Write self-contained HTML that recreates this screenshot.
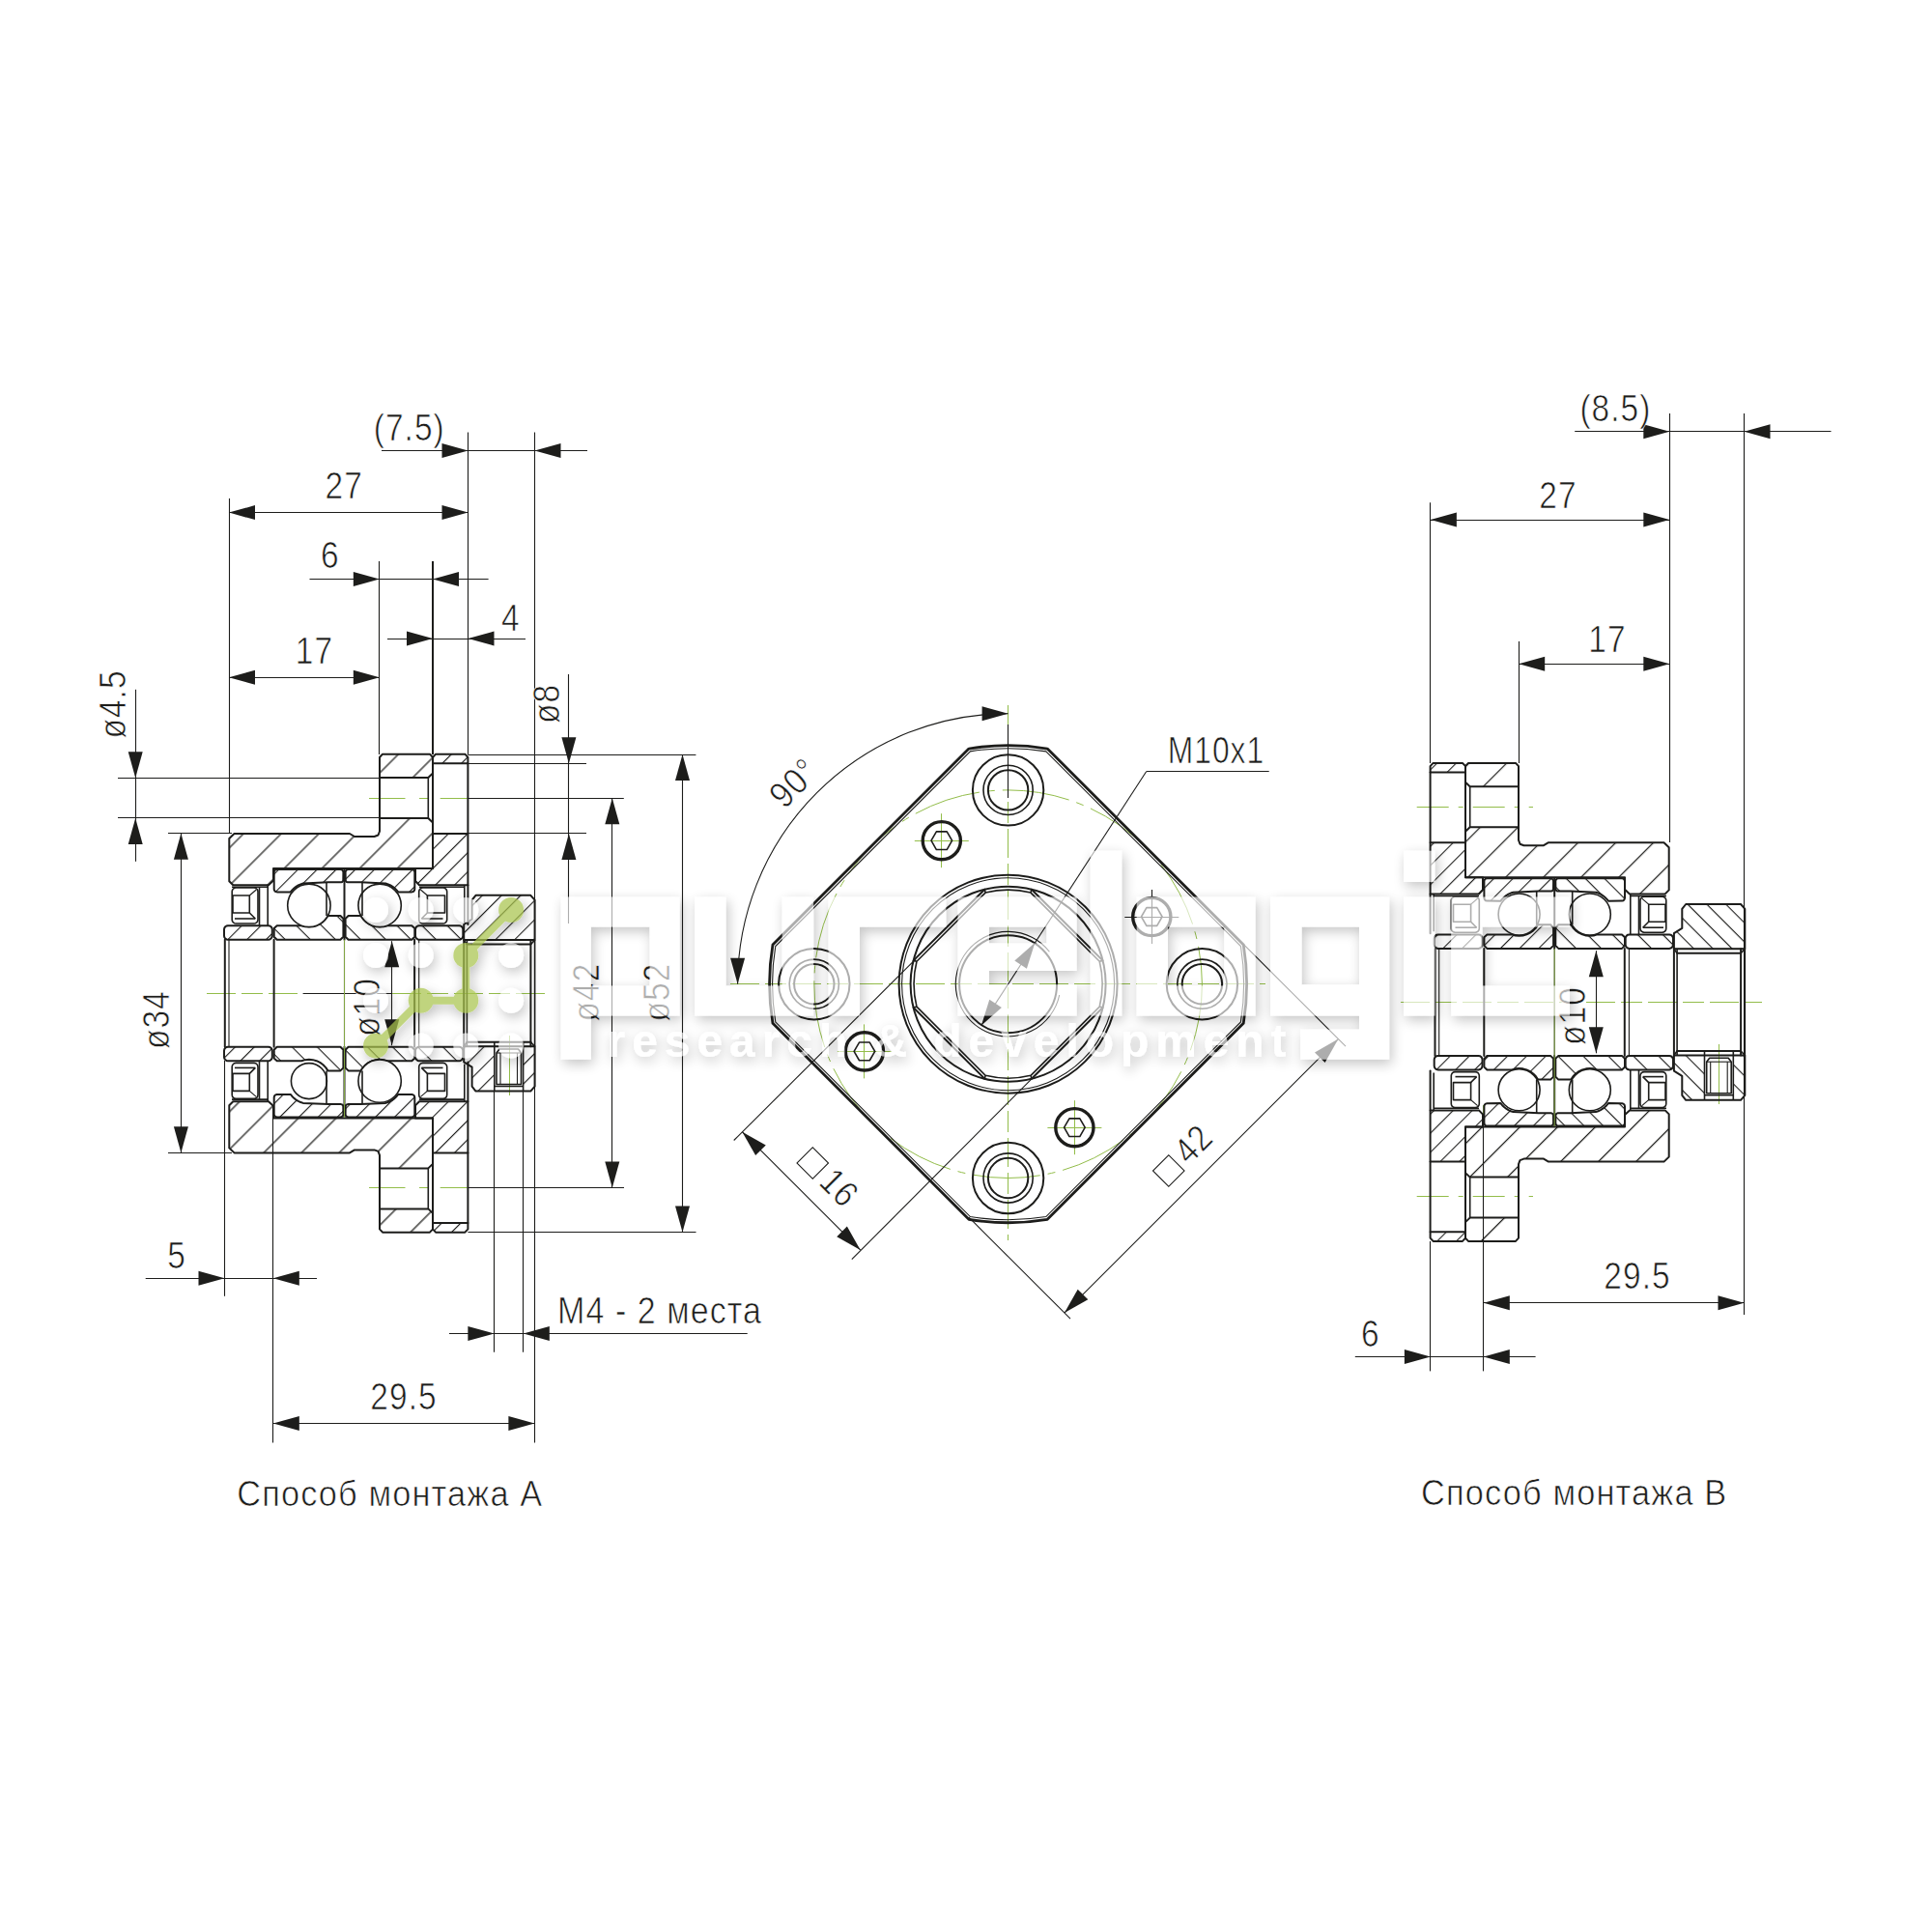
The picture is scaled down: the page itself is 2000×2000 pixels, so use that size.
<!DOCTYPE html>
<html><head><meta charset="utf-8"><title>Drawing</title>
<style>html,body{margin:0;padding:0;background:#fff}svg{display:block}text{font-family:"Liberation Sans",sans-serif}.d text{stroke:#fff;stroke-width:.7px;letter-spacing:1.2px}.k{stroke:#1d1d1b;stroke-width:2;stroke-linejoin:round;stroke-linecap:round}.k2{stroke:#1d1d1b;stroke-width:2}.k3{stroke:#1d1d1b;stroke-width:3.4}.m{stroke:#1d1d1b;stroke-width:1.6;stroke-linejoin:round}.t{stroke:#1d1d1b;stroke-width:1.1}.n{stroke:none}.g{stroke:#93bd4a;stroke-width:1}.kp{stroke:#1d1d1b;stroke-width:2.8;stroke-linejoin:round}</style></head><body>
<svg width="2000" height="2000" viewBox="0 0 2000 2000">
<defs>
<pattern id="hB" width="27.6" height="27.6" patternUnits="userSpaceOnUse" patternTransform="rotate(-45)"><line x1="0" y1="15.7" x2="27.6" y2="15.7" stroke="#1d1d1b" stroke-width="1.25"/></pattern>
<pattern id="hB2" width="27.6" height="27.6" patternUnits="userSpaceOnUse" patternTransform="rotate(-45)"><line x1="0" y1="5.5" x2="27.6" y2="5.5" stroke="#1d1d1b" stroke-width="1.25"/></pattern>
<pattern id="hS" width="14" height="14" patternUnits="userSpaceOnUse" patternTransform="rotate(-45)"><line x1="0" y1="0.5" x2="14" y2="0.5" stroke="#1d1d1b" stroke-width="1.25"/></pattern>
<pattern id="hS2" width="14" height="14" patternUnits="userSpaceOnUse" patternTransform="rotate(45)"><line x1="0" y1="0.5" x2="14" y2="0.5" stroke="#1d1d1b" stroke-width="1.25"/></pattern>
<pattern id="hI" width="18.4" height="18.4" patternUnits="userSpaceOnUse" patternTransform="rotate(45)"><line x1="0" y1="0.5" x2="18.4" y2="0.5" stroke="#1d1d1b" stroke-width="1.25"/></pattern>
<pattern id="hI2" width="18.4" height="18.4" patternUnits="userSpaceOnUse" patternTransform="rotate(-45)"><line x1="0" y1="0.5" x2="18.4" y2="0.5" stroke="#1d1d1b" stroke-width="1.25"/></pattern>
<filter id="ws" x="-5%" y="-20%" width="110%" height="140%"><feDropShadow dx="2.5" dy="4.5" stdDeviation="6.5" flood-color="#000" flood-opacity="0.36"/></filter>
</defs>
<rect width="2000" height="2000" fill="#fff"/>
<line class="g" x1="214" y1="1028.5" x2="570" y2="1028.5" stroke-dasharray="30 6 22 6"/>
<line class="g" x1="382" y1="826.5" x2="419.5" y2="826.5" />
<line class="g" x1="434" y1="826.5" x2="443" y2="826.5" />
<line class="g" x1="455.7" y1="826.5" x2="490" y2="826.5" />
<line class="g" x1="382" y1="1229.5" x2="419.5" y2="1229.5" />
<line class="g" x1="434" y1="1229.5" x2="443" y2="1229.5" />
<line class="g" x1="455.7" y1="1229.5" x2="490" y2="1229.5" />
<line class="g" x1="527.5" y1="1072" x2="527.5" y2="1134" />
<line class="g" x1="1450" y1="1037.5" x2="1824" y2="1037.5" stroke-dasharray="30 6 22 6"/>
<line class="g" x1="1466.7" y1="835.5" x2="1587" y2="835.5" stroke-dasharray="33 10 5 10"/>
<line class="g" x1="1466.7" y1="1238.5" x2="1587" y2="1238.5" stroke-dasharray="33 10 5 10"/>
<line class="g" x1="1535.5" y1="1144" x2="1535.5" y2="1300" />
<line class="g" x1="1779.5" y1="1081" x2="1779.5" y2="1143" />
<polygon class="k" fill="url(#hB)" points="242.5,863 362,863 367,866 387.5,866 391.5,864.5 393,860.5 393,847 443.3,847 448,851.5 448,899 283,899 283,911.5 278,916.2 241.3,916.2 237.3,912.2 237.3,868" />
<polygon class="k" fill="url(#hB)" points="242.5,1193.4 362,1193.4 367,1190.4 387.5,1190.4 391.5,1191.9 393,1195.9 393,1209.4 443.3,1209.4 448,1204.9 448,1157.4 283,1157.4 283,1144.9 278,1140.2 241.3,1140.2 237.3,1144.2 237.3,1188.4" />
<polygon class="k" fill="url(#hB)" points="393,784 396,780.7 445,780.7 448,784 448,800.5 443.3,805 393,805" />
<polygon class="k" fill="url(#hB)" points="393,1272.4 396,1275.7 445,1275.7 448,1272.4 448,1255.9 443.3,1251.4 393,1251.4" />
<polyline class="k" fill="none" points="393,805 393,847" />
<polyline class="k" fill="none" points="393,1251.4 393,1209.4" />
<polyline class="m" fill="none" points="443.3,805 443.3,847" />
<polyline class="m" fill="none" points="443.3,1251.4 443.3,1209.4" />
<polyline class="k" fill="none" points="448,800 448,852" />
<polyline class="k" fill="none" points="448,1256.4 448,1204.4" />
<polygon class="k" fill="url(#hS)" points="448,784 451,780.7 481.4,780.7 484.4,784 484.4,790.3 448,790.3" />
<polygon class="k" fill="url(#hS)" points="448,1272.4 451,1275.7 481.4,1275.7 484.4,1272.4 484.4,1266.1 448,1266.1" />
<polygon class="k" fill="url(#hS)" points="448,863 484.4,863 484.4,916.2 434,916.2 430,912 430,899 448,899" />
<polygon class="k" fill="url(#hS)" points="448,1193.4 484.4,1193.4 484.4,1140.2 434,1140.2 430,1144.4 430,1157.4 448,1157.4" />
<polyline class="k" fill="none" points="484.4,790.3 484.4,863" />
<polyline class="k" fill="none" points="484.4,1266.1 484.4,1193.4" />
<polyline class="m" fill="none" points="480.8,916.2 480.8,955" />
<polyline class="m" fill="none" points="480.8,1140.2 480.8,1101.4" />
<polyline class="k" fill="none" points="484.4,916.2 484.4,957" />
<polyline class="k" fill="none" points="484.4,1140.2 484.4,1099.4" />
<polyline class="m" fill="none" points="434,918.3 480.8,918.3" />
<polyline class="m" fill="none" points="434,1138.1 480.8,1138.1" />
<polygon class="m" fill="none" points="240.2,923 240.5,921.47 241.37,920.17 242.67,919.3 244.2,919 263,919 264.53,919.3 265.83,920.17 266.7,921.47 267,923 267,952 266.7,953.53 265.83,954.83 264.53,955.7 263,956 244.2,956 242.67,955.7 241.37,954.83 240.5,953.53 240.2,952" />
<polygon class="m" fill="none" points="240.2,1133.4 240.5,1134.93 241.37,1136.23 242.67,1137.1 244.2,1137.4 263,1137.4 264.53,1137.1 265.83,1136.23 266.7,1134.93 267,1133.4 267,1104.4 266.7,1102.87 265.83,1101.57 264.53,1100.7 263,1100.4 244.2,1100.4 242.67,1100.7 241.37,1101.57 240.5,1102.87 240.2,1104.4" />
<polygon class="m" fill="none" points="241,927 258.3,927 258.3,945 241,945" />
<polygon class="m" fill="none" points="241,1129.4 258.3,1129.4 258.3,1111.4 241,1111.4" />
<polyline class="m" fill="none" points="258.3,945 264.3,951" />
<polyline class="m" fill="none" points="258.3,1111.4 264.3,1105.4" />
<polyline class="m" fill="none" points="243,951 264.3,951" />
<polyline class="m" fill="none" points="243,1105.4 264.3,1105.4" />
<polyline class="t" fill="none" points="258.3,927 265.3,921" />
<polyline class="t" fill="none" points="258.3,1129.4 265.3,1135.4" />
<polygon class="m" fill="none" points="433.7,923 434,921.47 434.87,920.17 436.17,919.3 437.7,919 458.7,919 460.23,919.3 461.53,920.17 462.4,921.47 462.7,923 462.7,952 462.4,953.53 461.53,954.83 460.23,955.7 458.7,956 437.7,956 436.17,955.7 434.87,954.83 434,953.53 433.7,952" />
<polygon class="m" fill="none" points="433.7,1133.4 434,1134.93 434.87,1136.23 436.17,1137.1 437.7,1137.4 458.7,1137.4 460.23,1137.1 461.53,1136.23 462.4,1134.93 462.7,1133.4 462.7,1104.4 462.4,1102.87 461.53,1101.57 460.23,1100.7 458.7,1100.4 437.7,1100.4 436.17,1100.7 434.87,1101.57 434,1102.87 433.7,1104.4" />
<polygon class="m" fill="none" points="460.5,927 442.4,927 442.4,945 460.5,945" />
<polygon class="m" fill="none" points="460.5,1129.4 442.4,1129.4 442.4,1111.4 460.5,1111.4" />
<polyline class="m" fill="none" points="442.4,945 436.4,951" />
<polyline class="m" fill="none" points="442.4,1111.4 436.4,1105.4" />
<polyline class="m" fill="none" points="458.5,951 436.4,951" />
<polyline class="m" fill="none" points="458.5,1105.4 436.4,1105.4" />
<polyline class="t" fill="none" points="442.4,927 435.4,921" />
<polyline class="t" fill="none" points="442.4,1129.4 435.4,1135.4" />
<polyline class="m" fill="none" points="268.5,918.3 268.5,958" />
<polyline class="m" fill="none" points="268.5,1138.1 268.5,1098.4" />
<polyline class="m" fill="none" points="277.2,916.2 277.2,958" />
<polyline class="m" fill="none" points="277.2,1140.2 277.2,1098.4" />
<polyline class="m" fill="none" points="240,918.3 277.2,918.3" />
<polyline class="m" fill="none" points="240,1138.1 277.2,1138.1" />
<polygon class="k" fill="url(#hS)" points="283.7,903 284.1,901.5 285.2,900.4 286.7,900 352.4,900 353.9,900.4 355,901.5 355.4,903 355.3,911 354.99,912.15 354.15,912.99 353,913.3 340,913.3 313.79,914.5 311.24,915.35 308.8,916.48 306.5,917.87 304.38,919.52 302.45,921.41 300.76,923.49 286.7,923.4 285.2,923 284.1,921.9 283.7,920.4" />
<polygon class="k" fill="url(#hS)" points="283.7,1153.4 284.1,1154.9 285.2,1156 286.7,1156.4 352.4,1156.4 353.9,1156 355,1154.9 355.4,1153.4 355.3,1145.4 354.99,1144.25 354.15,1143.41 353,1143.1 340,1143.1 313.79,1141.9 311.24,1141.05 308.8,1139.92 306.5,1138.53 304.38,1136.88 302.45,1134.99 300.76,1132.91 286.7,1133 285.2,1133.4 284.1,1134.5 283.7,1136" />
<polygon class="k" fill="url(#hS)" points="429.3,903 428.9,901.5 427.8,900.4 426.3,900 360.6,900 359.1,900.4 358,901.5 357.6,903 357.7,911 358.01,912.15 358.85,912.99 360,913.3 373,913.3 399.21,914.5 401.76,915.35 404.2,916.48 406.5,917.87 408.62,919.52 410.55,921.41 412.24,923.49 426.3,923.4 427.8,923 428.9,921.9 429.3,920.4" />
<polygon class="k" fill="url(#hS)" points="429.3,1153.4 428.9,1154.9 427.8,1156 426.3,1156.4 360.6,1156.4 359.1,1156 358,1154.9 357.6,1153.4 357.7,1145.4 358.01,1144.25 358.85,1143.41 360,1143.1 373,1143.1 399.21,1141.9 401.76,1141.05 404.2,1139.92 406.5,1138.53 408.62,1136.88 410.55,1134.99 412.24,1132.91 426.3,1133 427.8,1133.4 428.9,1134.5 429.3,1136" />
<polygon class="k" fill="url(#hI)" points="283.7,961 286.7,958.2 312.13,958.2 315.96,959.25 319.91,959.6 323.86,959.24 327.69,958.19 331.27,956.48 334.49,954.16 337.25,951.31 339.46,948.01 352.4,948 355.4,951 355.4,969.7 352.4,972.7 286.7,972.7 283.7,969.7" />
<polygon class="k" fill="url(#hI)" points="283.7,1095.4 286.7,1098.2 312.13,1098.2 315.96,1097.15 319.91,1096.8 323.86,1097.16 327.69,1098.21 331.27,1099.92 334.49,1102.24 337.25,1105.09 339.46,1108.39 352.4,1108.4 355.4,1105.4 355.4,1086.7 352.4,1083.7 286.7,1083.7 283.7,1086.7" />
<polygon class="k" fill="url(#hI)" points="429.3,961 426.3,958.2 400.87,958.2 397.04,959.25 393.09,959.6 389.14,959.24 385.31,958.19 381.73,956.48 378.51,954.16 375.75,951.31 373.54,948.01 360.6,948 357.6,951 357.6,969.7 360.6,972.7 426.3,972.7 429.3,969.7" />
<polygon class="k" fill="url(#hI)" points="429.3,1095.4 426.3,1098.2 400.87,1098.2 397.04,1097.15 393.09,1096.8 389.14,1097.16 385.31,1098.21 381.73,1099.92 378.51,1102.24 375.75,1105.09 373.54,1108.39 360.6,1108.4 357.6,1105.4 357.6,1086.7 360.6,1083.7 426.3,1083.7 429.3,1086.7" />
<circle class="m" fill="#fff" cx="319.9" cy="937.3" r="22.2" />
<circle class="m" fill="#fff" cx="319.9" cy="1119.1" r="18.5" />
<circle class="m" fill="#fff" cx="393.1" cy="937.3" r="22.2" />
<circle class="m" fill="#fff" cx="393.1" cy="1119.1" r="22.2" />
<polyline class="m" fill="none" points="338,913.3 338,948" />
<polyline class="m" fill="none" points="338,1143.1 338,1108.4" />
<polyline class="m" fill="none" points="375,913.3 375,948" />
<polyline class="m" fill="none" points="375,1143.1 375,1108.4" />
<polyline class="k" fill="none" points="356.5,900 356.5,972.7" />
<polyline class="k" fill="none" points="356.5,1156.4 356.5,1083.7" />
<polygon class="k" fill="url(#hS)" points="232,962.2 232.3,960.67 233.17,959.37 234.47,958.5 236,958.2 277.8,958.2 279.33,958.5 280.63,959.37 281.5,960.67 281.8,962.2 281.8,968.7 281.5,970.23 280.63,971.53 279.33,972.4 277.8,972.7 236,972.7 234.47,972.4 233.17,971.53 232.3,970.23 232,968.7" />
<polygon class="k" fill="url(#hS)" points="232,1094.2 232.3,1095.73 233.17,1097.03 234.47,1097.9 236,1098.2 277.8,1098.2 279.33,1097.9 280.63,1097.03 281.5,1095.73 281.8,1094.2 281.8,1087.7 281.5,1086.17 280.63,1084.87 279.33,1084 277.8,1083.7 236,1083.7 234.47,1084 233.17,1084.87 232.3,1086.17 232,1087.7" />
<polygon class="k" fill="url(#hI)" points="430,962.2 430.3,960.67 431.17,959.37 432.47,958.5 434,958.2 475.3,958.2 476.83,958.5 478.13,959.37 479,960.67 479.3,962.2 479.3,968.7 479,970.23 478.13,971.53 476.83,972.4 475.3,972.7 434,972.7 432.47,972.4 431.17,971.53 430.3,970.23 430,968.7" />
<polygon class="k" fill="url(#hI)" points="430,1094.2 430.3,1095.73 431.17,1097.03 432.47,1097.9 434,1098.2 475.3,1098.2 476.83,1097.9 478.13,1097.03 479,1095.73 479.3,1094.2 479.3,1087.7 479,1086.17 478.13,1084.87 476.83,1084 475.3,1083.7 434,1083.7 432.47,1084 431.17,1084.87 430.3,1086.17 430,1087.7" />
<polyline class="k" fill="none" points="232.8,972.7 232.8,1083.7" />
<polyline class="t" fill="none" points="237,972.7 237,1083.7" />
<polyline class="k" fill="none" points="283.6,972.7 283.6,1083.7" />
<polyline class="t" fill="none" points="356.5,972.7 356.5,1083.7" />
<polyline class="k" fill="none" points="429.1,972.7 429.1,1083.7" />
<polyline class="t" fill="none" points="433.7,972.7 433.7,1083.7" />
<polygon class="k" fill="url(#hS)" points="488.6,931.7 492.5,926.8 549.3,926.8 553.6,931.7 553.6,973.1 480.2,973.1 480.2,957 488.6,951.7" />
<polygon class="n" fill="url(#hS)" points="488.6,1124.7 492.5,1129.6 511.8,1129.6 511.8,1083.3 480.2,1083.3 480.2,1099.4 488.6,1104.7" />
<polygon class="n" fill="url(#hS)" points="541.6,1129.6 549.3,1129.6 553.6,1124.7 553.6,1083.3 541.6,1083.3" />
<polygon class="k" fill="none" points="488.6,1124.7 492.5,1129.6 549.3,1129.6 553.6,1124.7 553.6,1083.3 480.2,1083.3 480.2,1099.4 488.6,1104.7" />
<polyline class="k" fill="none" points="483.4,977.6 549.4,977.6" />
<polyline class="k" fill="none" points="483.4,1078.8 549.4,1078.8" />
<polyline class="m" fill="none" points="480.2,973.1 483.4,977.6" />
<polyline class="m" fill="none" points="480.2,1083.3 483.4,1078.8" />
<polyline class="m" fill="none" points="553.6,973.1 549.4,977.6" />
<polyline class="m" fill="none" points="553.6,1083.3 549.4,1078.8" />
<polyline class="t" fill="none" points="480.2,973.1 553.6,973.1" />
<polyline class="t" fill="none" points="480.2,1083.3 553.6,1083.3" />
<polyline class="k" fill="none" points="480.2,973.1 480.2,1083.3" />
<polyline class="m" fill="none" points="483.4,973.1 483.4,1083.3" />
<polyline class="k" fill="none" points="549.4,973.1 549.4,1083.3" />
<polyline class="m" fill="none" points="553.6,973.1 553.6,1083.3" />
<polyline class="m" fill="none" points="511.8,1079 511.8,1129.4" />
<polyline class="m" fill="none" points="541.6,1079 541.6,1129.4" />
<polygon class="m" fill="none" points="514,1090 517,1086 536.5,1086 539.5,1090 539.5,1122.5 514,1122.5" />
<polyline class="t" fill="none" points="518,1090 518,1122.5" />
<polyline class="t" fill="none" points="535.5,1090 535.5,1122.5" />
<polyline class="t" fill="none" points="514,1090 539.5,1090" />
<polyline class="m" fill="none" points="511.8,1124.5 541.6,1124.5" />
<polygon class="k" fill="url(#hB2)" points="1722.5,872.2 1603,872.2 1598,875.2 1577.5,875.2 1573.5,873.7 1572,869.7 1572,856.2 1521.7,856.2 1517,860.7 1517,908.2 1682,908.2 1682,920.7 1687,925.4 1723.7,925.4 1727.7,921.4 1727.7,877.2" />
<polygon class="k" fill="url(#hB2)" points="1722.5,1202.6 1603,1202.6 1598,1199.6 1577.5,1199.6 1573.5,1201.1 1572,1205.1 1572,1218.6 1521.7,1218.6 1517,1214.1 1517,1166.6 1682,1166.6 1682,1154.1 1687,1149.4 1723.7,1149.4 1727.7,1153.4 1727.7,1197.6" />
<polygon class="k" fill="url(#hB2)" points="1572,793.2 1569,789.9 1520,789.9 1517,793.2 1517,809.7 1521.7,814.2 1572,814.2" />
<polygon class="k" fill="url(#hB2)" points="1572,1281.6 1569,1284.9 1520,1284.9 1517,1281.6 1517,1265.1 1521.7,1260.6 1572,1260.6" />
<polyline class="k" fill="none" points="1572,814.2 1572,856.2" />
<polyline class="k" fill="none" points="1572,1260.6 1572,1218.6" />
<polyline class="m" fill="none" points="1521.7,814.2 1521.7,856.2" />
<polyline class="m" fill="none" points="1521.7,1260.6 1521.7,1218.6" />
<polyline class="k" fill="none" points="1517,809.2 1517,861.2" />
<polyline class="k" fill="none" points="1517,1265.6 1517,1213.6" />
<polygon class="k" fill="url(#hS)" points="1517,793.2 1514,789.9 1483.6,789.9 1480.6,793.2 1480.6,799.5 1517,799.5" />
<polygon class="k" fill="url(#hS)" points="1517,1281.6 1514,1284.9 1483.6,1284.9 1480.6,1281.6 1480.6,1275.3 1517,1275.3" />
<polygon class="k" fill="url(#hS)" points="1517,872.2 1480.6,872.2 1480.6,925.4 1531,925.4 1535,921.2 1535,908.2 1517,908.2" />
<polygon class="k" fill="url(#hS)" points="1517,1202.6 1480.6,1202.6 1480.6,1149.4 1531,1149.4 1535,1153.6 1535,1166.6 1517,1166.6" />
<polyline class="k" fill="none" points="1480.6,799.5 1480.6,872.2" />
<polyline class="k" fill="none" points="1480.6,1275.3 1480.6,1202.6" />
<polyline class="m" fill="none" points="1484.2,925.4 1484.2,964.2" />
<polyline class="m" fill="none" points="1484.2,1149.4 1484.2,1110.6" />
<polyline class="k" fill="none" points="1480.6,925.4 1480.6,966.2" />
<polyline class="k" fill="none" points="1480.6,1149.4 1480.6,1108.6" />
<polyline class="m" fill="none" points="1531,927.5 1484.2,927.5" />
<polyline class="m" fill="none" points="1531,1147.3 1484.2,1147.3" />
<polygon class="m" fill="none" points="1724.8,932.2 1724.5,930.67 1723.63,929.37 1722.33,928.5 1720.8,928.2 1702,928.2 1700.47,928.5 1699.17,929.37 1698.3,930.67 1698,932.2 1698,961.2 1698.3,962.73 1699.17,964.03 1700.47,964.9 1702,965.2 1720.8,965.2 1722.33,964.9 1723.63,964.03 1724.5,962.73 1724.8,961.2" />
<polygon class="m" fill="none" points="1724.8,1142.6 1724.5,1144.13 1723.63,1145.43 1722.33,1146.3 1720.8,1146.6 1702,1146.6 1700.47,1146.3 1699.17,1145.43 1698.3,1144.13 1698,1142.6 1698,1113.6 1698.3,1112.07 1699.17,1110.77 1700.47,1109.9 1702,1109.6 1720.8,1109.6 1722.33,1109.9 1723.63,1110.77 1724.5,1112.07 1724.8,1113.6" />
<polygon class="m" fill="none" points="1724,936.2 1706.7,936.2 1706.7,954.2 1724,954.2" />
<polygon class="m" fill="none" points="1724,1138.6 1706.7,1138.6 1706.7,1120.6 1724,1120.6" />
<polyline class="m" fill="none" points="1706.7,954.2 1700.7,960.2" />
<polyline class="m" fill="none" points="1706.7,1120.6 1700.7,1114.6" />
<polyline class="m" fill="none" points="1722,960.2 1700.7,960.2" />
<polyline class="m" fill="none" points="1722,1114.6 1700.7,1114.6" />
<polyline class="t" fill="none" points="1706.7,936.2 1699.7,930.2" />
<polyline class="t" fill="none" points="1706.7,1138.6 1699.7,1144.6" />
<polygon class="m" fill="none" points="1531.3,932.2 1531,930.67 1530.13,929.37 1528.83,928.5 1527.3,928.2 1506.3,928.2 1504.77,928.5 1503.47,929.37 1502.6,930.67 1502.3,932.2 1502.3,961.2 1502.6,962.73 1503.47,964.03 1504.77,964.9 1506.3,965.2 1527.3,965.2 1528.83,964.9 1530.13,964.03 1531,962.73 1531.3,961.2" />
<polygon class="m" fill="none" points="1531.3,1142.6 1531,1144.13 1530.13,1145.43 1528.83,1146.3 1527.3,1146.6 1506.3,1146.6 1504.77,1146.3 1503.47,1145.43 1502.6,1144.13 1502.3,1142.6 1502.3,1113.6 1502.6,1112.07 1503.47,1110.77 1504.77,1109.9 1506.3,1109.6 1527.3,1109.6 1528.83,1109.9 1530.13,1110.77 1531,1112.07 1531.3,1113.6" />
<polygon class="m" fill="none" points="1504.5,936.2 1522.6,936.2 1522.6,954.2 1504.5,954.2" />
<polygon class="m" fill="none" points="1504.5,1138.6 1522.6,1138.6 1522.6,1120.6 1504.5,1120.6" />
<polyline class="m" fill="none" points="1522.6,954.2 1528.6,960.2" />
<polyline class="m" fill="none" points="1522.6,1120.6 1528.6,1114.6" />
<polyline class="m" fill="none" points="1506.5,960.2 1528.6,960.2" />
<polyline class="m" fill="none" points="1506.5,1114.6 1528.6,1114.6" />
<polyline class="t" fill="none" points="1522.6,936.2 1529.6,930.2" />
<polyline class="t" fill="none" points="1522.6,1138.6 1529.6,1144.6" />
<polyline class="m" fill="none" points="1696.5,927.5 1696.5,967.2" />
<polyline class="m" fill="none" points="1696.5,1147.3 1696.5,1107.6" />
<polyline class="m" fill="none" points="1687.8,925.4 1687.8,967.2" />
<polyline class="m" fill="none" points="1687.8,1149.4 1687.8,1107.6" />
<polyline class="m" fill="none" points="1725,927.5 1687.8,927.5" />
<polyline class="m" fill="none" points="1725,1147.3 1687.8,1147.3" />
<polygon class="k" fill="url(#hS)" points="1536.4,912.2 1536.8,910.7 1537.9,909.6 1539.4,909.2 1605.1,909.2 1606.6,909.6 1607.7,910.7 1608.1,912.2 1608,920.2 1607.69,921.35 1606.85,922.19 1605.7,922.5 1592.7,922.5 1566.49,923.7 1563.94,924.55 1561.5,925.68 1559.2,927.07 1557.08,928.72 1555.15,930.61 1553.46,932.69 1539.4,932.6 1537.9,932.2 1536.8,931.1 1536.4,929.6" />
<polygon class="k" fill="url(#hS)" points="1536.4,1162.6 1536.8,1164.1 1537.9,1165.2 1539.4,1165.6 1605.1,1165.6 1606.6,1165.2 1607.7,1164.1 1608.1,1162.6 1608,1154.6 1607.69,1153.45 1606.85,1152.61 1605.7,1152.3 1592.7,1152.3 1566.49,1151.1 1563.94,1150.25 1561.5,1149.12 1559.2,1147.73 1557.08,1146.08 1555.15,1144.19 1553.46,1142.11 1539.4,1142.2 1537.9,1142.6 1536.8,1143.7 1536.4,1145.2" />
<polygon class="k" fill="url(#hS2)" points="1682,912.2 1681.6,910.7 1680.5,909.6 1679,909.2 1613.3,909.2 1611.8,909.6 1610.7,910.7 1610.3,912.2 1610.4,920.2 1610.71,921.35 1611.55,922.19 1612.7,922.5 1625.7,922.5 1651.91,923.7 1654.46,924.55 1656.9,925.68 1659.2,927.07 1661.32,928.72 1663.25,930.61 1664.94,932.69 1679,932.6 1680.5,932.2 1681.6,931.1 1682,929.6" />
<polygon class="k" fill="url(#hS2)" points="1682,1162.6 1681.6,1164.1 1680.5,1165.2 1679,1165.6 1613.3,1165.6 1611.8,1165.2 1610.7,1164.1 1610.3,1162.6 1610.4,1154.6 1610.71,1153.45 1611.55,1152.61 1612.7,1152.3 1625.7,1152.3 1651.91,1151.1 1654.46,1150.25 1656.9,1149.12 1659.2,1147.73 1661.32,1146.08 1663.25,1144.19 1664.94,1142.11 1679,1142.2 1680.5,1142.6 1681.6,1143.7 1682,1145.2" />
<polygon class="k" fill="url(#hS)" points="1536.4,970.2 1539.4,967.4 1564.83,967.4 1568.66,968.45 1572.61,968.8 1576.56,968.44 1580.39,967.39 1583.97,965.68 1587.19,963.36 1589.95,960.51 1592.16,957.21 1605.1,957.2 1608.1,960.2 1608.1,978.9 1605.1,981.9 1539.4,981.9 1536.4,978.9" />
<polygon class="k" fill="url(#hS)" points="1536.4,1104.6 1539.4,1107.4 1564.83,1107.4 1568.66,1106.35 1572.61,1106 1576.56,1106.36 1580.39,1107.41 1583.97,1109.12 1587.19,1111.44 1589.95,1114.29 1592.16,1117.59 1605.1,1117.6 1608.1,1114.6 1608.1,1095.9 1605.1,1092.9 1539.4,1092.9 1536.4,1095.9" />
<polygon class="k" fill="url(#hI)" points="1682,970.2 1679,967.4 1653.57,967.4 1649.74,968.45 1645.79,968.8 1641.84,968.44 1638.01,967.39 1634.43,965.68 1631.21,963.36 1628.45,960.51 1626.24,957.21 1613.3,957.2 1610.3,960.2 1610.3,978.9 1613.3,981.9 1679,981.9 1682,978.9" />
<polygon class="k" fill="url(#hI)" points="1682,1104.6 1679,1107.4 1653.57,1107.4 1649.74,1106.35 1645.79,1106 1641.84,1106.36 1638.01,1107.41 1634.43,1109.12 1631.21,1111.44 1628.45,1114.29 1626.24,1117.59 1613.3,1117.6 1610.3,1114.6 1610.3,1095.9 1613.3,1092.9 1679,1092.9 1682,1095.9" />
<circle class="m" fill="#fff" cx="1572.6" cy="946.5" r="21.5" />
<circle class="m" fill="#fff" cx="1572.6" cy="1128.3" r="21.5" />
<circle class="m" fill="#fff" cx="1645.8" cy="946.5" r="21.5" />
<circle class="m" fill="#fff" cx="1645.8" cy="1128.3" r="21.5" />
<polyline class="m" fill="none" points="1590.7,922.5 1590.7,957.2" />
<polyline class="m" fill="none" points="1590.7,1152.3 1590.7,1117.6" />
<polyline class="m" fill="none" points="1627.7,922.5 1627.7,957.2" />
<polyline class="m" fill="none" points="1627.7,1152.3 1627.7,1117.6" />
<polyline class="k" fill="none" points="1609.2,909.2 1609.2,981.9" />
<polyline class="k" fill="none" points="1609.2,1165.6 1609.2,1092.9" />
<polygon class="k" fill="url(#hS)" points="1484.7,971.4 1485,969.87 1485.87,968.57 1487.17,967.7 1488.7,967.4 1530.5,967.4 1532.03,967.7 1533.33,968.57 1534.2,969.87 1534.5,971.4 1534.5,977.9 1534.2,979.43 1533.33,980.73 1532.03,981.6 1530.5,981.9 1488.7,981.9 1487.17,981.6 1485.87,980.73 1485,979.43 1484.7,977.9" />
<polygon class="k" fill="url(#hS)" points="1484.7,1103.4 1485,1104.93 1485.87,1106.23 1487.17,1107.1 1488.7,1107.4 1530.5,1107.4 1532.03,1107.1 1533.33,1106.23 1534.2,1104.93 1534.5,1103.4 1534.5,1096.9 1534.2,1095.37 1533.33,1094.07 1532.03,1093.2 1530.5,1092.9 1488.7,1092.9 1487.17,1093.2 1485.87,1094.07 1485,1095.37 1484.7,1096.9" />
<polygon class="k" fill="url(#hI)" points="1682.7,971.4 1683,969.87 1683.87,968.57 1685.17,967.7 1686.7,967.4 1728,967.4 1729.53,967.7 1730.83,968.57 1731.7,969.87 1732,971.4 1732,977.9 1731.7,979.43 1730.83,980.73 1729.53,981.6 1728,981.9 1686.7,981.9 1685.17,981.6 1683.87,980.73 1683,979.43 1682.7,977.9" />
<polygon class="k" fill="url(#hI)" points="1682.7,1103.4 1683,1104.93 1683.87,1106.23 1685.17,1107.1 1686.7,1107.4 1728,1107.4 1729.53,1107.1 1730.83,1106.23 1731.7,1104.93 1732,1103.4 1732,1096.9 1731.7,1095.37 1730.83,1094.07 1729.53,1093.2 1728,1092.9 1686.7,1092.9 1685.17,1093.2 1683.87,1094.07 1683,1095.37 1682.7,1096.9" />
<polyline class="k" fill="none" points="1485.5,981.9 1485.5,1092.9" />
<polyline class="t" fill="none" points="1489.7,981.9 1489.7,1092.9" />
<polyline class="k" fill="none" points="1536.3,981.9 1536.3,1092.9" />
<polyline class="t" fill="none" points="1609.2,981.9 1609.2,1092.9" />
<polyline class="k" fill="none" points="1681.8,981.9 1681.8,1092.9" />
<polyline class="t" fill="none" points="1686.4,981.9 1686.4,1092.9" />
<polygon class="k" fill="url(#hS2)" points="1741.3,940.9 1745.2,936 1802,936 1806.3,940.9 1806.3,982.3 1732.9,982.3 1732.9,966.2 1741.3,960.9" />
<polygon class="n" fill="url(#hS2)" points="1741.3,1133.9 1745.2,1138.8 1764.5,1138.8 1764.5,1092.5 1732.9,1092.5 1732.9,1108.6 1741.3,1113.9" />
<polygon class="n" fill="url(#hS2)" points="1794.3,1138.8 1802,1138.8 1806.3,1133.9 1806.3,1092.5 1794.3,1092.5" />
<polygon class="k" fill="none" points="1741.3,1133.9 1745.2,1138.8 1802,1138.8 1806.3,1133.9 1806.3,1092.5 1732.9,1092.5 1732.9,1108.6 1741.3,1113.9" />
<polyline class="k" fill="none" points="1736.1,986.8 1802.1,986.8" />
<polyline class="k" fill="none" points="1736.1,1088 1802.1,1088" />
<polyline class="m" fill="none" points="1732.9,982.3 1736.1,986.8" />
<polyline class="m" fill="none" points="1732.9,1092.5 1736.1,1088" />
<polyline class="m" fill="none" points="1806.3,982.3 1802.1,986.8" />
<polyline class="m" fill="none" points="1806.3,1092.5 1802.1,1088" />
<polyline class="t" fill="none" points="1732.9,982.3 1806.3,982.3" />
<polyline class="t" fill="none" points="1732.9,1092.5 1806.3,1092.5" />
<polyline class="k" fill="none" points="1732.9,982.3 1732.9,1092.5" />
<polyline class="m" fill="none" points="1736.1,982.3 1736.1,1092.5" />
<polyline class="k" fill="none" points="1802.1,982.3 1802.1,1092.5" />
<polyline class="m" fill="none" points="1806.3,982.3 1806.3,1092.5" />
<polyline class="m" fill="none" points="1764.5,1088.2 1764.5,1138.6" />
<polyline class="m" fill="none" points="1794.3,1088.2 1794.3,1138.6" />
<polygon class="m" fill="none" points="1766.7,1099.2 1769.7,1095.2 1789.2,1095.2 1792.2,1099.2 1792.2,1131.7 1766.7,1131.7" />
<polyline class="t" fill="none" points="1770.7,1099.2 1770.7,1131.7" />
<polyline class="t" fill="none" points="1788.2,1099.2 1788.2,1131.7" />
<polyline class="t" fill="none" points="1766.7,1099.2 1792.2,1099.2" />
<polyline class="m" fill="none" points="1764.5,1133.7 1794.3,1133.7" />
<line class="t" x1="237.5" y1="516" x2="237.5" y2="863" />
<line class="t" x1="484.5" y1="447.6" x2="484.5" y2="781" />
<line class="t" x1="553.5" y1="447.6" x2="553.5" y2="1493.6" />
<line class="t" x1="392.5" y1="581" x2="392.5" y2="781" />
<line class="k2" x1="448" y1="581" x2="448" y2="781" />
<line class="t" x1="232.5" y1="1098" x2="232.5" y2="1341.8" />
<line class="t" x1="282.5" y1="1157" x2="282.5" y2="1493.6" />
<line class="t" x1="511.5" y1="1129" x2="511.5" y2="1399.8" />
<line class="t" x1="541.5" y1="1129" x2="541.5" y2="1399.8" />
<line class="t" x1="395" y1="466.5" x2="608" y2="466.5" />
<polygon fill="#1d1d1b" points="484.5,466.5 457.5,474 457.5,459"/>
<polygon fill="#1d1d1b" points="553.5,466.5 580.5,459 580.5,474"/>
<g class="d" transform="translate(386.7,456) rotate(0) scale(0.88,1)"><text font-size="38" text-anchor="start" fill="#1d1d1b" font-weight="normal" >(7.5)</text></g>
<line class="t" x1="237" y1="530.5" x2="484.5" y2="530.5" />
<polygon fill="#1d1d1b" points="237,530.6 264,523.1 264,538.1"/>
<polygon fill="#1d1d1b" points="484.5,530.6 457.5,538.1 457.5,523.1"/>
<g class="d" transform="translate(356.2,516) rotate(0) scale(0.88,1)"><text font-size="38" text-anchor="middle" fill="#1d1d1b" font-weight="normal" >27</text></g>
<line class="t" x1="320.5" y1="599.5" x2="505.6" y2="599.5" />
<polygon fill="#1d1d1b" points="392.8,599.6 365.8,607.1 365.8,592.1"/>
<polygon fill="#1d1d1b" points="448,599.6 475,592.1 475,607.1"/>
<g class="d" transform="translate(341.7,588.4) rotate(0) scale(0.88,1)"><text font-size="38" text-anchor="middle" fill="#1d1d1b" font-weight="normal" >6</text></g>
<line class="t" x1="401" y1="661.5" x2="544" y2="661.5" />
<polygon fill="#1d1d1b" points="448,661 421,668.5 421,653.5"/>
<polygon fill="#1d1d1b" points="484.5,661 511.5,653.5 511.5,668.5"/>
<g class="d" transform="translate(528.8,652.6) rotate(0) scale(0.88,1)"><text font-size="38" text-anchor="middle" fill="#1d1d1b" font-weight="normal" >4</text></g>
<line class="t" x1="237" y1="701.5" x2="392.8" y2="701.5" />
<polygon fill="#1d1d1b" points="237,701.3 264,693.8 264,708.8"/>
<polygon fill="#1d1d1b" points="392.8,701.3 365.8,708.8 365.8,693.8"/>
<g class="d" transform="translate(325.5,686.7) rotate(0) scale(0.88,1)"><text font-size="38" text-anchor="middle" fill="#1d1d1b" font-weight="normal" >17</text></g>
<line class="t" x1="122" y1="805.5" x2="393" y2="805.5" />
<line class="t" x1="122" y1="846.5" x2="393" y2="846.5" />
<line class="t" x1="140.5" y1="713.8" x2="140.5" y2="891.8" />
<polygon fill="#1d1d1b" points="140.2,805.3 132.7,778.3 147.7,778.3"/>
<polygon fill="#1d1d1b" points="140.2,846.9 147.7,873.9 132.7,873.9"/>
<g class="d" transform="translate(130,729) rotate(-90) scale(0.88,1)"><text font-size="38" text-anchor="middle" fill="#1d1d1b" font-weight="normal" >ø4.5</text></g>
<line class="t" x1="174" y1="862.5" x2="240" y2="862.5" />
<line class="t" x1="174" y1="1193.5" x2="240" y2="1193.5" />
<line class="t" x1="187.5" y1="862.8" x2="187.5" y2="1193.2" />
<polygon fill="#1d1d1b" points="187.4,862.8 194.9,889.8 179.9,889.8"/>
<polygon fill="#1d1d1b" points="187.4,1193.2 179.9,1166.2 194.9,1166.2"/>
<g class="d" transform="translate(174.9,1055.5) rotate(-90) scale(0.88,1)"><text font-size="38" text-anchor="middle" fill="#1d1d1b" font-weight="normal" >ø34</text></g>
<line class="t" x1="484.4" y1="790.5" x2="607" y2="790.5" />
<line class="t" x1="484.4" y1="862.5" x2="607" y2="862.5" />
<line class="t" x1="588.5" y1="698" x2="588.5" y2="956" />
<polygon fill="#1d1d1b" points="588.9,790.3 581.4,763.3 596.4,763.3"/>
<polygon fill="#1d1d1b" points="588.9,862.9 596.4,889.9 581.4,889.9"/>
<g class="d" transform="translate(578.8,728.5) rotate(-90) scale(0.88,1)"><text font-size="38" text-anchor="middle" fill="#1d1d1b" font-weight="normal" >ø8</text></g>
<line class="t" x1="484.4" y1="826.5" x2="645.8" y2="826.5" />
<line class="t" x1="484.4" y1="1229.5" x2="646" y2="1229.5" />
<line class="t" x1="633.5" y1="826.3" x2="633.5" y2="1229.6" />
<polygon fill="#1d1d1b" points="633.8,826.3 641.3,853.3 626.3,853.3"/>
<polygon fill="#1d1d1b" points="633.8,1229.6 626.3,1202.6 641.3,1202.6"/>
<g class="d" transform="translate(620.2,1027) rotate(-90) scale(0.88,1)"><text font-size="38" text-anchor="middle" fill="#1d1d1b" font-weight="normal" >ø42</text></g>
<line class="t" x1="484.4" y1="781.5" x2="720.4" y2="781.5" />
<line class="t" x1="484.4" y1="1275.5" x2="720.5" y2="1275.5" />
<line class="t" x1="706.5" y1="781" x2="706.5" y2="1275.5" />
<polygon fill="#1d1d1b" points="706.5,781 714,808 699,808"/>
<polygon fill="#1d1d1b" points="706.5,1275.5 699,1248.5 714,1248.5"/>
<g class="d" transform="translate(693,1027) rotate(-90) scale(0.88,1)"><text font-size="38" text-anchor="middle" fill="#1d1d1b" font-weight="normal" >ø52</text></g>
<line class="t" x1="313.6" y1="1028.5" x2="405.7" y2="1028.5" />
<line class="t" x1="405.5" y1="974.2" x2="405.5" y2="1082.3" />
<polygon fill="#1d1d1b" points="405.7,974.2 413.2,1001.2 398.2,1001.2"/>
<polygon fill="#1d1d1b" points="405.7,1082.3 398.2,1055.3 413.2,1055.3"/>
<g class="d" transform="translate(393.3,1042.5) rotate(-90) scale(0.88,1)"><text font-size="38" text-anchor="middle" fill="#1d1d1b" font-weight="normal" >ø10</text></g>
<line class="t" x1="150.7" y1="1323.5" x2="328" y2="1323.5" />
<polygon fill="#1d1d1b" points="232.5,1323.2 205.5,1330.7 205.5,1315.7"/>
<polygon fill="#1d1d1b" points="282.8,1323.2 309.8,1315.7 309.8,1330.7"/>
<g class="d" transform="translate(183,1312.8) rotate(0) scale(0.88,1)"><text font-size="38" text-anchor="middle" fill="#1d1d1b" font-weight="normal" >5</text></g>
<line class="t" x1="465" y1="1380.5" x2="773.7" y2="1380.5" />
<polygon fill="#1d1d1b" points="511.4,1380.5 484.4,1388 484.4,1373"/>
<polygon fill="#1d1d1b" points="541.8,1380.5 568.8,1373 568.8,1388"/>
<g class="d" transform="translate(577,1369.8) rotate(0)"><text font-size="38" fill="#1d1d1b" font-weight="normal" textLength="212" lengthAdjust="spacingAndGlyphs">M4 - 2 места</text></g>
<line class="t" x1="282.8" y1="1473.5" x2="553.4" y2="1473.5" />
<polygon fill="#1d1d1b" points="282.8,1473.5 309.8,1466 309.8,1481"/>
<polygon fill="#1d1d1b" points="553.4,1473.5 526.4,1481 526.4,1466"/>
<g class="d" transform="translate(418,1458.5) rotate(0) scale(0.88,1)"><text font-size="38" text-anchor="middle" fill="#1d1d1b" font-weight="normal" >29.5</text></g>
<g class="d" transform="translate(245.3,1558.6) rotate(0)"><text font-size="37" fill="#1d1d1b" font-weight="normal" textLength="317" lengthAdjust="spacingAndGlyphs">Способ монтажа A</text></g>
<line class="t" x1="1480.5" y1="520.3" x2="1480.5" y2="790" />
<line class="t" x1="1480.5" y1="1285" x2="1480.5" y2="1419.4" />
<line class="t" x1="1572.5" y1="663.9" x2="1572.5" y2="790" />
<line class="t" x1="1728.5" y1="427.9" x2="1728.5" y2="872" />
<line class="t" x1="1805.5" y1="427.9" x2="1805.5" y2="1361" />
<line class="t" x1="1535.5" y1="1165" x2="1535.5" y2="1419.4" />
<line class="t" x1="1630.2" y1="446.5" x2="1895.5" y2="446.5" />
<polygon fill="#1d1d1b" points="1728.3,446.8 1701.3,454.3 1701.3,439.3"/>
<polygon fill="#1d1d1b" points="1805.5,446.8 1832.5,439.3 1832.5,454.3"/>
<g class="d" transform="translate(1635.4,435.6) rotate(0) scale(0.88,1)"><text font-size="38" text-anchor="start" fill="#1d1d1b" font-weight="normal" >(8.5)</text></g>
<line class="t" x1="1480.9" y1="538.5" x2="1728.3" y2="538.5" />
<polygon fill="#1d1d1b" points="1480.9,538.1 1507.9,530.6 1507.9,545.6"/>
<polygon fill="#1d1d1b" points="1728.3,538.1 1701.3,545.6 1701.3,530.6"/>
<g class="d" transform="translate(1613,526.2) rotate(0) scale(0.88,1)"><text font-size="38" text-anchor="middle" fill="#1d1d1b" font-weight="normal" >27</text></g>
<line class="t" x1="1572.2" y1="687.5" x2="1728.3" y2="687.5" />
<polygon fill="#1d1d1b" points="1572.2,687.2 1599.2,679.7 1599.2,694.7"/>
<polygon fill="#1d1d1b" points="1728.3,687.2 1701.3,694.7 1701.3,679.7"/>
<g class="d" transform="translate(1664,675) rotate(0) scale(0.88,1)"><text font-size="38" text-anchor="middle" fill="#1d1d1b" font-weight="normal" >17</text></g>
<line class="t" x1="1535.8" y1="1348.5" x2="1805.5" y2="1348.5" />
<polygon fill="#1d1d1b" points="1535.8,1348.7 1562.8,1341.2 1562.8,1356.2"/>
<polygon fill="#1d1d1b" points="1805.5,1348.7 1778.5,1356.2 1778.5,1341.2"/>
<g class="d" transform="translate(1695,1334) rotate(0) scale(0.88,1)"><text font-size="38" text-anchor="middle" fill="#1d1d1b" font-weight="normal" >29.5</text></g>
<line class="t" x1="1402.8" y1="1404.5" x2="1589.6" y2="1404.5" />
<polygon fill="#1d1d1b" points="1480.9,1404.4 1453.9,1411.9 1453.9,1396.9"/>
<polygon fill="#1d1d1b" points="1535.8,1404.4 1562.8,1396.9 1562.8,1411.9"/>
<g class="d" transform="translate(1418.8,1393.5) rotate(0) scale(0.88,1)"><text font-size="38" text-anchor="middle" fill="#1d1d1b" font-weight="normal" >6</text></g>
<line class="t" x1="1652.5" y1="984.2" x2="1652.5" y2="1090.3" />
<polygon fill="#1d1d1b" points="1652.3,984.2 1659.8,1011.2 1644.8,1011.2"/>
<polygon fill="#1d1d1b" points="1652.3,1090.3 1644.8,1063.3 1659.8,1063.3"/>
<g class="d" transform="translate(1640.7,1051.5) rotate(-90) scale(0.88,1)"><text font-size="38" text-anchor="middle" fill="#1d1d1b" font-weight="normal" >ø10</text></g>
<g class="d" transform="translate(1471,1558.4) rotate(0)"><text font-size="37" fill="#1d1d1b" font-weight="normal" textLength="317.4" lengthAdjust="spacingAndGlyphs">Способ монтажа B</text></g>
<line class="g" x1="356.5" y1="972.7" x2="356.5" y2="1157" stroke-width="1.6" opacity="0.85"/>
<line class="g" x1="1609.2" y1="982" x2="1609.2" y2="1166" stroke-width="1.6" opacity="0.85"/>
<line class="g" x1="756" y1="1018.5" x2="1310" y2="1018.5" stroke-dasharray="30 6 22 6"/>
<line class="g" x1="1043.5" y1="730" x2="1043.5" y2="1284" stroke-dasharray="30 6 22 6"/>
<circle class="g" fill="none" cx="1043.6" cy="1018.7" r="200.8" stroke-dasharray="70 8 8 8"/>
<line class="t" x1="1043.5" y1="750" x2="1043.5" y2="826" />
<path class="kp" fill="none" d="M1084.22,775.06 L1287.24,978.08 A247,247 0 0 1 1287.24,1059.32 L1084.22,1262.34 A247,247 0 0 1 1002.98,1262.34 L799.96,1059.32 A247,247 0 0 1 799.96,978.08 L1002.98,775.06 A247,247 0 0 1 1084.22,775.06 Z" />
<path class="t" fill="none" d="M1082.78,777.87 L1284.43,979.52 A244,244 0 0 1 1284.43,1057.88 L1082.78,1259.53 A244,244 0 0 1 1004.42,1259.53 L802.77,1057.88 A244,244 0 0 1 802.77,979.52 L1004.42,777.87 A244,244 0 0 1 1082.78,777.87 Z" />
<circle class="k" fill="none" cx="1244.4" cy="1018.7" r="36.7" />
<circle class="m" fill="none" cx="1244.4" cy="1018.7" r="25.6" />
<circle class="k" fill="none" cx="1244.4" cy="1018.7" r="20.7" />
<circle class="k" fill="none" cx="1043.6" cy="1219.5" r="36.7" />
<circle class="m" fill="none" cx="1043.6" cy="1219.5" r="25.6" />
<circle class="k" fill="none" cx="1043.6" cy="1219.5" r="20.7" />
<circle class="k" fill="none" cx="842.8" cy="1018.7" r="36.7" />
<circle class="m" fill="none" cx="842.8" cy="1018.7" r="25.6" />
<circle class="k" fill="none" cx="842.8" cy="1018.7" r="20.7" />
<circle class="k" fill="none" cx="1043.6" cy="817.9" r="36.7" />
<circle class="m" fill="none" cx="1043.6" cy="817.9" r="25.6" />
<circle class="k" fill="none" cx="1043.6" cy="817.9" r="20.7" />
<line class="g" x1="946.8" y1="870.5" x2="1002.8" y2="870.5" />
<line class="g" x1="974.5" y1="842.2" x2="974.5" y2="898.2" />
<circle class="k3" fill="none" cx="974.8" cy="870.2" r="19.6" />
<polygon class="m" fill="none" points="985.6,870.2 980.2,879.55 969.4,879.55 964,870.2 969.4,860.85 980.2,860.85" />
<line class="t" x1="1164.3" y1="949.5" x2="1220.3" y2="949.5" />
<line class="t" x1="1192.5" y1="921" x2="1192.5" y2="977" />
<circle class="k3" fill="none" cx="1192.3" cy="949" r="19.6" />
<polygon class="m" fill="none" points="1203.1,949 1197.7,958.35 1186.9,958.35 1181.5,949 1186.9,939.65 1197.7,939.65" />
<line class="g" x1="1084.4" y1="1167.5" x2="1140.4" y2="1167.5" />
<line class="g" x1="1112.5" y1="1139.2" x2="1112.5" y2="1195.2" />
<circle class="k3" fill="none" cx="1112.4" cy="1167.2" r="19.6" />
<polygon class="m" fill="none" points="1123.2,1167.2 1117.8,1176.55 1107,1176.55 1101.6,1167.2 1107,1157.85 1117.8,1157.85" />
<line class="g" x1="866.9" y1="1088.5" x2="922.9" y2="1088.5" />
<line class="g" x1="894.5" y1="1060.4" x2="894.5" y2="1116.4" />
<circle class="k3" fill="none" cx="894.9" cy="1088.4" r="19.6" />
<polygon class="m" fill="none" points="905.7,1088.4 900.3,1097.75 889.5,1097.75 884.1,1088.4 889.5,1079.05 900.3,1079.05" />
<circle class="k" fill="none" cx="1043.6" cy="1018.7" r="113" />
<circle class="t" fill="none" cx="1043.6" cy="1018.7" r="110" />
<circle class="k" fill="none" cx="1043.6" cy="1018.7" r="101" />
<path class="m" fill="none" d="M1067.05,924.06 L1138.24,995.25 A97.5,97.5 0 0 1 1138.24,1042.15 L1067.05,1113.34 A97.5,97.5 0 0 1 1020.15,1113.34 L948.96,1042.15 A97.5,97.5 0 0 1 948.96,995.25 L1020.15,924.06 A97.5,97.5 0 0 1 1067.05,924.06 Z" />
<line class="k" x1="1067.9" y1="920.67" x2="1141.63" y2="994.4" />
<line class="m" x1="1067.9" y1="920.67" x2="1067.05" y2="924.06" />
<line class="m" x1="1141.63" y1="994.4" x2="1138.24" y2="995.25" />
<line class="k" x1="1141.63" y1="1043" x2="1067.9" y2="1116.73" />
<line class="m" x1="1141.63" y1="1043" x2="1138.24" y2="1042.15" />
<line class="m" x1="1067.9" y1="1116.73" x2="1067.05" y2="1113.34" />
<line class="k" x1="1019.3" y1="1116.73" x2="945.57" y2="1043" />
<line class="m" x1="1019.3" y1="1116.73" x2="1020.15" y2="1113.34" />
<line class="m" x1="945.57" y1="1043" x2="948.96" y2="1042.15" />
<line class="k" x1="945.57" y1="994.4" x2="1019.3" y2="920.67" />
<line class="m" x1="945.57" y1="994.4" x2="948.96" y2="995.25" />
<line class="m" x1="1019.3" y1="920.67" x2="1020.15" y2="924.06" />
<circle class="k" fill="none" cx="1043.6" cy="1018.7" r="50.5" />
<path class="t" fill="none" d="M1086.39,985.27 A54.3,54.3 0 1 0 1096.71,1029.99" />
<path class="t" fill="none" d="M763.6,1018.7 A280,280 0 0 1 1043.6,738.7" />
<polygon fill="#1d1d1b" points="1043.6,738.7 1016.6,746.2 1016.6,731.2"/>
<polygon fill="#1d1d1b" points="763.6,1018.7 756.1,991.7 771.1,991.7"/>
<g class="d" transform="translate(812,838.5) rotate(-45) scale(0.88,1)"><text font-size="38" text-anchor="start" fill="#1d1d1b" font-weight="normal" >90°</text></g>
<line class="t" x1="1015.7" y1="1061.7" x2="1186.6" y2="798.8" />
<line class="t" x1="1186.6" y1="798.5" x2="1313.7" y2="798.5" />
<polygon fill="#1d1d1b" points="1071.3,975.9 1062.91,1002.64 1050.32,994.48"/>
<polygon fill="#1d1d1b" points="1015.9,1061.5 1024.29,1034.76 1036.88,1042.92"/>
<g class="d" transform="translate(1208.7,790) rotate(0)"><text font-size="38" fill="#1d1d1b" font-weight="normal" textLength="100.5" lengthAdjust="spacingAndGlyphs">M10x1</text></g>
<line class="t" x1="948.1" y1="992.6" x2="759.7" y2="1180.5" />
<line class="t" x1="1069.4" y1="1115.3" x2="881.8" y2="1303.7" />
<line class="t" x1="768.35" y1="1171.65" x2="890.65" y2="1293.95" />
<polygon fill="#1d1d1b" points="768.35,1171.65 792.75,1185.44 782.14,1196.05"/>
<polygon fill="#1d1d1b" points="890.65,1293.95 866.25,1280.16 876.86,1269.55"/>
<g transform="translate(825,1204) rotate(45)"><rect x="0" y="-23" width="23" height="23" fill="none" class="t"/><g class="d" transform="translate(30,0) scale(0.86,1)"><text font-size="38" fill="#1d1d1b">16</text></g></g>
<line class="t" x1="1287.4" y1="977.6" x2="1393" y2="1083.2" />
<line class="t" x1="1003" y1="1260.2" x2="1108" y2="1365.2" />
<line class="t" x1="1101.9" y1="1359.1" x2="1385.4" y2="1075.6" />
<polygon fill="#1d1d1b" points="1101.9,1359.1 1115.69,1334.7 1126.3,1345.31"/>
<polygon fill="#1d1d1b" points="1385.4,1075.6 1371.61,1100 1361,1089.39"/>
<g transform="translate(1209.8,1228.3) rotate(-45)"><rect x="0" y="-23" width="23" height="23" fill="none" class="t"/><g class="d" transform="translate(30,0) scale(0.86,1)"><text font-size="38" fill="#1d1d1b">42</text></g></g>
<g filter="url(#ws)" opacity="0.64">
<path fill="#fff" fill-rule="evenodd" d="M580.7,928.6 H703.6 V1051.5 H611.8 V1096.8 H580.7 Z M611.8,959.6 H672.6 V1020.5 H611.8 Z M719.2,928.6 H751.5 V1020.5 H809.7 V928.6 H842.1 V1051.5 H719.2 Z M857.6,928.6 H979.3 V959.6 H890 V1051.5 H857.6 Z M991.6,928.6 H1114.6 V1005 H1024 V1019.2 H1114.6 V1051.5 H991.6 Z M1024,959.6 H1083.5 V976.5 H1024 Z M1128.8,880.7 H1161.2 V1051.5 H1128.8 Z M1176.7,928.6 H1299.6 V1051.5 H1176.7 Z M1209,959.6 H1267.3 V1020.5 H1209 Z M1315.1,928.6 H1438.1 V1096.8 H1346.2 V1065.7 H1407 V1051.5 H1315.1 Z M1347.5,959.6 H1407 V1019.2 H1347.5 Z M1453,880.7 H1485.4 V913 H1453 Z M1453,928.6 H1485.4 V1051.5 H1453 Z M1502.2,928.6 H1625 V959.6 H1534.5 V1020.5 H1625 V1051.5 H1502.2 Z"/>
<text x="628.6" y="1094" font-size="48" font-weight="bold" fill="#fff" textLength="703" lengthAdjust="spacing">research &amp; development</text>
<circle cx="389" cy="942" r="13" fill="#fff"/>
<circle cx="389" cy="989" r="13" fill="#fff"/>
<circle cx="389" cy="1035.8" r="13" fill="#fff"/>
<circle cx="435.7" cy="942" r="13" fill="#fff"/>
<circle cx="435.7" cy="989" r="13" fill="#fff"/>
<circle cx="435.7" cy="1082.6" r="13" fill="#fff"/>
<circle cx="482.3" cy="942" r="13" fill="#fff"/>
<circle cx="482.3" cy="1082.6" r="13" fill="#fff"/>
<circle cx="529.1" cy="989" r="13" fill="#fff"/>
<circle cx="529.1" cy="1035.8" r="13" fill="#fff"/>
<circle cx="529.1" cy="1082.6" r="13" fill="#fff"/>
</g>
<g opacity="0.72" filter="url(#ws)">
<polyline points="529.1,942 482.3,989 482.3,1035.8 435.7,1035.8 389,1082.6" fill="none" stroke="#a9c44e" stroke-width="8" stroke-linejoin="round"/>
<circle cx="435.7" cy="1035.8" r="13" fill="#a9c44e"/>
<circle cx="482.3" cy="989" r="13" fill="#a9c44e"/>
<circle cx="482.3" cy="1035.8" r="13" fill="#a9c44e"/>
<circle cx="389" cy="1082.6" r="13" fill="#a9c44e"/>
<circle cx="529.1" cy="942" r="13" fill="#a9c44e"/>
</g>
</svg></body></html>
